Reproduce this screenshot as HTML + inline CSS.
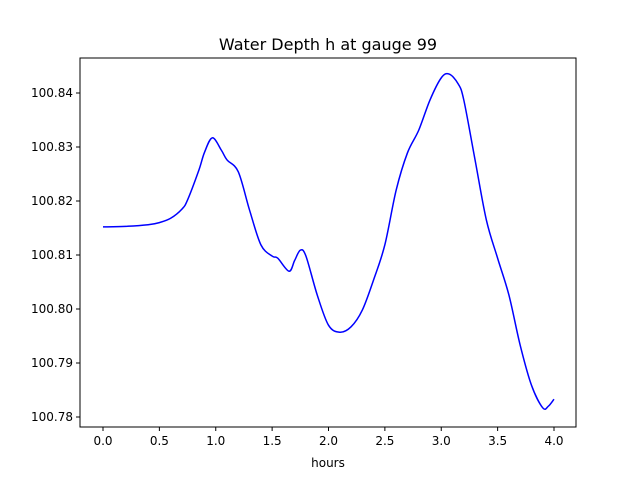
<!DOCTYPE html>
<html><head><meta charset="utf-8"><style>
body{margin:0;background:#fff;}
svg text{font-family:"DejaVu Sans","Liberation Sans",sans-serif;fill:#000;}
</style></head><body>
<svg id="chart" width="640" height="480" viewBox="0 0 640 480">
<rect x="0" y="0" width="640" height="480" fill="#fff"/>
<text x="328" y="50" font-size="16" text-anchor="middle">Water Depth h at gauge 99</text>
<g id="plot"></g>
<rect x="80" y="58" width="496" height="369" fill="none" stroke="#000" stroke-width="1"/>
<text x="328" y="467" font-size="12" text-anchor="middle">hours</text>
</svg>
<script>
const hours=[0,0.2,0.4,0.5,0.6,0.7,0.75,0.85,0.9,0.97,1.05,1.1,1.2,1.3,1.4,1.5,1.55,1.65,1.7,1.75,1.8,1.9,2.0,2.1,2.2,2.3,2.4,2.5,2.6,2.7,2.8,2.9,3.0,3.07,3.15,3.2,3.3,3.4,3.5,3.6,3.7,3.8,3.9,3.95,4.0];
const depth=[100.8152,100.8153,100.8156,100.816,100.8168,100.8185,100.8202,100.8257,100.829,100.8317,100.8294,100.8276,100.8254,100.8183,100.8119,100.8098,100.8094,100.807,100.809,100.8109,100.8098,100.8026,100.797,100.7957,100.7967,100.7998,100.8054,100.8119,100.822,100.8289,100.8331,100.8387,100.8428,100.8435,100.8417,100.8387,100.8276,100.8165,100.8094,100.8026,100.7933,100.7859,100.7817,100.782,100.7833];
const xTicks=[0,0.5,1,1.5,2,2.5,3,3.5,4];
const xTickLabels=["0.0","0.5","1.0","1.5","2.0","2.5","3.0","3.5","4.0"];
const yTicks=[100.78,100.79,100.80,100.81,100.82,100.83,100.84];
const yTickLabels=["100.78","100.79","100.80","100.81","100.82","100.83","100.84"];
const NS="http://www.w3.org/2000/svg";
const X=v=>103+v*112.75;
const Y=v=>417-(v-100.78)*5400;
const g=document.getElementById('plot');
function mk(t,a){const e=document.createElementNS(NS,t);for(const k in a)e.setAttribute(k,a[k]);g.appendChild(e);return e;}
xTicks.forEach((v,i)=>{
 const l=mk('line',{x1:X(v),x2:X(v),y1:427,y2:431,stroke:'#000'});
 
 
 const t=mk('text',{x:X(v),y:445,'font-size':12,'text-anchor':'middle'});
 t.textContent=xTickLabels[i];
 
 
});
yTicks.forEach((v,i)=>{
 const l=mk('line',{x1:76,x2:80,y1:Y(v),y2:Y(v),stroke:'#000'});
 
 
 const t=mk('text',{x:73,y:Y(v)+4,'font-size':12,'text-anchor':'end'});
 t.textContent=yTickLabels[i];
 
 
});
const p=hours.map((h,i)=>[X(h),Y(depth[i])]);
let d='M'+p[0][0]+','+p[0][1];
for(let i=0;i<p.length-1;i++){
 const p0=p[Math.max(0,i-1)],p1=p[i],p2=p[i+1],p3=p[Math.min(p.length-1,i+2)];
 const c1=[p1[0]+(p2[0]-p0[0])/6,p1[1]+(p2[1]-p0[1])/6];
 const c2=[p2[0]-(p3[0]-p1[0])/6,p2[1]-(p3[1]-p1[1])/6];
 d+=` C${c1[0]},${c1[1]} ${c2[0]},${c2[1]} ${p2[0]},${p2[1]}`;
}
const path=mk('path',{d:d,fill:'none',stroke:'#0000ff','stroke-width':1.5});


</script>
</body></html>
